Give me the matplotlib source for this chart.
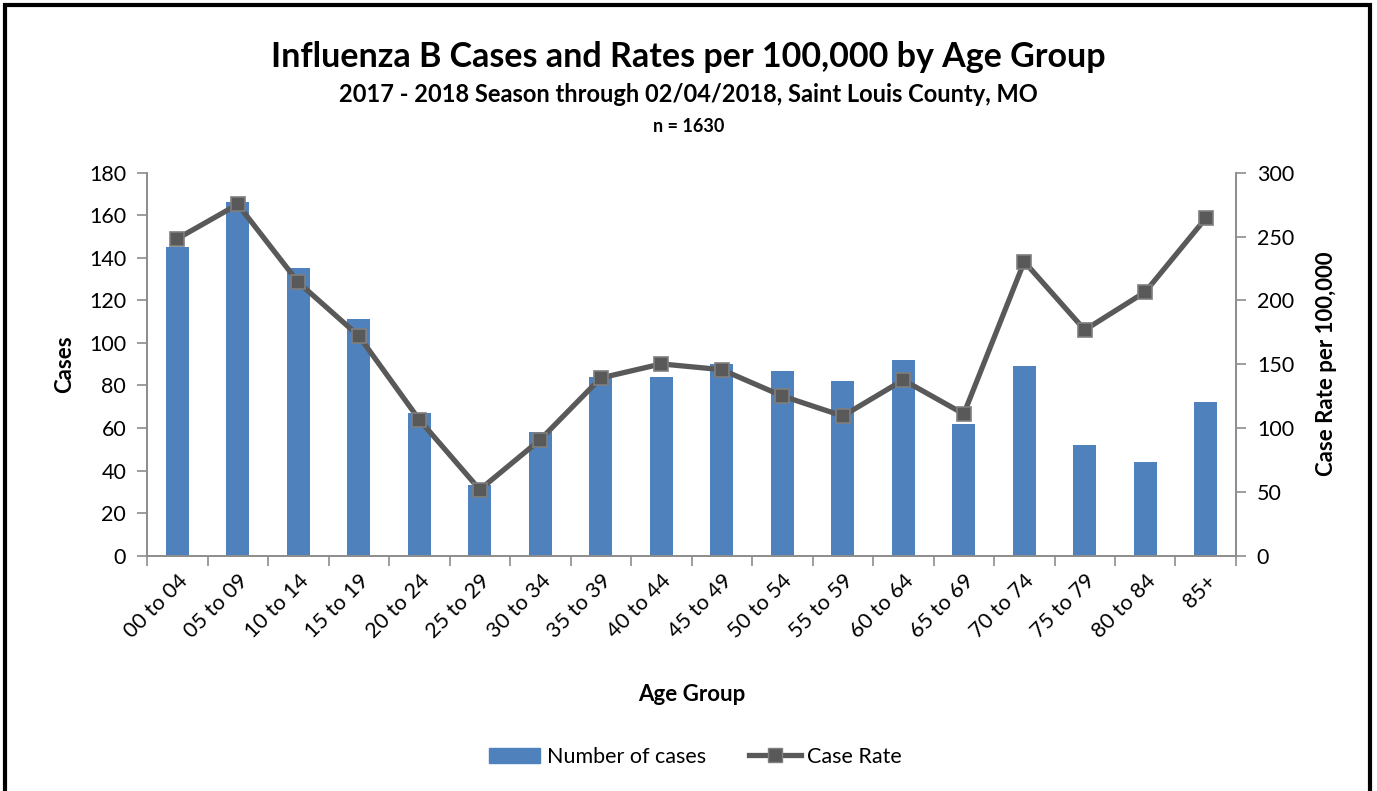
import matplotlib
matplotlib.use("Agg")
from matplotlib import pyplot as plt
from matplotlib.patches import Rectangle
from matplotlib.lines import Line2D
from matplotlib.patches import Patch

age_groups = ["00 to 04", "05 to 09", "10 to 14", "15 to 19", "20 to 24", "25 to 29",
              "30 to 34", "35 to 39", "40 to 44", "45 to 49", "50 to 54", "55 to 59",
              "60 to 64", "65 to 69", "70 to 74", "75 to 79", "80 to 84", "85+"]
cases = [145, 166, 135, 111, 67, 33, 58, 84, 84, 90, 87, 82, 92, 62, 89, 52, 44, 72]
case_rate = [248.3, 275.2, 214.1, 172.1, 106.5, 51.7, 90.9, 139.2, 150.2, 145.7,
             125.1, 109.4, 137.6, 111.0, 230.3, 176.8, 206.6, 264.3]

plt.rcParams['font.family'] = ['Lato', 'DejaVu Sans']
axis_grey = "#8c8c8c"
bar_blue = "#4F81BD"
line_grey = "#595959"
tick_fs = 15.5
label_fs = 16

fig = plt.figure(figsize=(13.77, 7.91), dpi=100)
ax = fig.add_axes([0.1068, 0.2975, 0.7908, 0.4842])
ax2 = ax.twinx()

x = list(range(len(age_groups)))
ax.bar(x, cases, width=0.385, color=bar_blue, zorder=2)
ax2.plot(x, case_rate, color=line_grey, lw=3.8, marker="s", markersize=10.5,
         markerfacecolor=line_grey, markeredgecolor="#7f7f7f", markeredgewidth=1.2, zorder=3)

ax.set_xlim(-0.5, len(age_groups) - 0.5)
ax.set_ylim(0, 180)
ax.set_yticks(range(0, 181, 20))
ax2.set_ylim(0, 300)
ax2.set_yticks(range(0, 301, 50))

# tick marks sit between the categories, labels under each bar
ax.set_xticks([i - 0.5 for i in range(len(age_groups) + 1)], minor=False)
ax.set_xticklabels([])
ax.set_xticks(x, minor=True)
ax.set_xticklabels(age_groups, minor=True, rotation=45, ha="right", rotation_mode="anchor", fontsize=tick_fs)
ax.tick_params(axis="x", which="minor", length=0, pad=11)
ax.tick_params(axis="x", which="major", length=7, color=axis_grey, width=1.2)
ax.tick_params(axis="y", length=7, color=axis_grey, width=1.2, labelsize=tick_fs, pad=8)
ax2.tick_params(axis="y", length=7, color=axis_grey, width=1.2, labelsize=tick_fs, pad=8)

for a in (ax, ax2):
    a.spines["top"].set_visible(False)
    for s in ("left", "right", "bottom"):
        a.spines[s].set_color(axis_grey)
        a.spines[s].set_linewidth(1.2)
ax.set_zorder(ax2.get_zorder() - 1)
ax2.patch.set_visible(False)

ax.set_ylabel("Cases", fontsize=label_fs, fontweight="bold", labelpad=10)
ax2.set_ylabel("Case Rate per 100,000", fontsize=label_fs, fontweight="bold", labelpad=16)
ax.set_xlabel("Age Group", fontsize=label_fs, fontweight="bold", labelpad=30)

fig.text(0.5, 1 - 57 / 791, "Influenza B Cases and Rates per 100,000 by Age Group",
         ha="center", va="center", fontsize=24.5, fontweight="bold")
fig.text(0.5, 1 - 95 / 791, "2017 - 2018 Season through 02/04/2018, Saint Louis County, MO",
         ha="center", va="center", fontsize=17, fontweight="bold")
fig.text(0.5, 1 - 127 / 791, "n = 1630", ha="center", va="center", fontsize=13, fontweight="bold")

handles = [Patch(color=bar_blue, label="Number of cases"),
           Line2D([], [], color=line_grey, lw=3.8, marker="s", markersize=10.5,
                  markerfacecolor=line_grey, markeredgecolor="#7f7f7f", label="Case Rate")]
fig.legend(handles=handles, loc="center", bbox_to_anchor=(0.505, 1 - 757 / 791), ncol=2,
           frameon=False, fontsize=15.5, handlelength=2.4, handletextpad=0.3, columnspacing=2)

# outer border
fig.patches.append(Rectangle((5 / 1377, -0.01), 1 - 12 / 1377, 1 - 5 / 791 + 0.01,
                             transform=fig.transFigure, fill=False, edgecolor="black", lw=3))

fig.savefig("out.png", dpi=100)
